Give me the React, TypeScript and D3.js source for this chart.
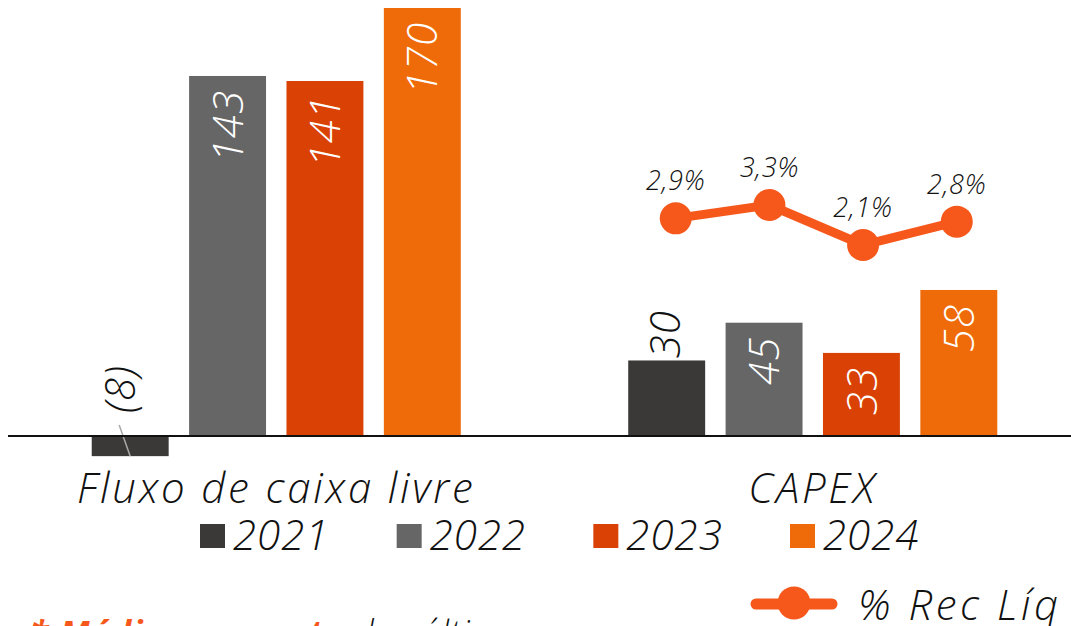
import React from "react";
import * as d3 from "d3";

const categories = ["Fluxo de caixa livre", "CAPEX"];
const years = ["2021", "2022", "2023", "2024"];
const fcfValues = [-8, 143, 141, 170];
const capexValues = [30, 45, 33, 58];
const pctValues = [2.9, 3.3, 2.1, 2.8];
const yearColors = ["#3a3937", "#666666", "#d94105", "#ef6a08"];
const lineColor = "#f6581c";
const lineLegend = "% Rec Líq";
const footOrange = "* Média sem corte";
const footBlack = " dos últimos anos";

const W = 1071;
const H = 626;
const FONT = "'Open Sans', sans-serif";

const fmtVal = (v: number) => (v < 0 ? `(${Math.abs(v)})` : `${v}`);
const fmtPct = (v: number) => d3.format(".1f")(v).replace(".", ",") + "%";

export default function App() {
  const series = [fcfValues, capexValues];
  const x0 = d3.scaleBand().domain(categories).range([8, 1081]).padding(0);
  const x1 = d3
    .scaleBand()
    .domain(years)
    .range([-194.75, 194.75])
    .paddingInner(0.21)
    .paddingOuter(0.105);
  const y = d3.scaleLinear().domain([0, 170]).range([436, 8]);
  const yPct = d3.scaleLinear().domain([0, 3.3]).range([315, 205]);
  const center = (c: string) => (x0(c) as number) + x0.bandwidth() / 2;
  const xPct = d3
    .scalePoint()
    .domain(years)
    .range([center("CAPEX") - 137, center("CAPEX") + 144]);
  const line = d3
    .line<number>()
    .x((_, i) => xPct(years[i]) as number)
    .y((d) => yPct(d));

  const legendX = d3.scalePoint().domain(years).range([200, 790]);

  return (
    <svg
      width={W}
      height={H}
      style={{ position: "absolute", left: 0, top: 0, background: "#fff", overflow: "hidden" }}
      fontFamily={FONT}
      fontStyle="italic"
      fontWeight={360}
    >
      <rect width={W} height={H} fill="#fff" />
      {categories.map((cat, ci) => {
        const cx = center(cat);
        return (
          <g key={cat}>
            {years.map((yr, i) => {
              const v = series[ci][i];
              const bx = cx + (x1(yr) as number);
              const bw = x1.bandwidth();
              const top = y(Math.max(v, 0));
              const bot = y(Math.min(v, 0));
              const mid = bx + bw / 2;
              const inside = v > 32;
              let label;
              if (v < 0) {
                const lx = mid - 10;
                const ly = y(0) - 23;
                label = (
                  <g>
                    <line x1={mid - 11} y1={y(0) - 11} x2={mid} y2={bot} stroke="#a8a8a8" strokeWidth={1.5} />
                    <text
                      transform={`translate(${lx},${ly}) rotate(-90)`}
                      dy="0.36em"
                      fontSize={42}
                      fill="#111"
                      textAnchor="start"
                      letterSpacing={1}
                    >
                      {fmtVal(v)}
                    </text>
                  </g>
                );
              } else if (inside) {
                label = (
                  <text
                    transform={`translate(${mid},${top + 14}) rotate(-90)`}
                    dy="0.36em"
                    fontSize={42}
                    fill="#fff"
                    textAnchor="end"
                    letterSpacing={1}
                  >
                    {fmtVal(v)}
                  </text>
                );
              } else {
                label = (
                  <text
                    transform={`translate(${mid - 2},${top - 2}) rotate(-90)`}
                    dy="0.36em"
                    fontSize={42}
                    fill="#111"
                    textAnchor="start"
                    letterSpacing={1}
                  >
                    {fmtVal(v)}
                  </text>
                );
              }
              return (
                <g key={yr}>
                  <rect x={bx} y={top} width={bw} height={bot - top} fill={yearColors[i]} />
                  {label}
                </g>
              );
            })}
            <text x={cx} y={503} textAnchor="middle" fontSize={42} fill="#111" letterSpacing={2.8}>
              {cat}
            </text>
          </g>
        );
      })}
      <line x1={8} x2={W} y1={y(0)} y2={y(0)} stroke="#111" strokeWidth={2} />

      <path d={line(pctValues) || ""} fill="none" stroke={lineColor} strokeWidth={9} />
      {pctValues.map((v, i) => (
        <g key={i}>
          <circle cx={xPct(years[i])} cy={yPct(v)} r={16} fill={lineColor} />
          <text x={xPct(years[i])} y={yPct(v) - 28} textAnchor="middle" fontSize={27} fill="#111" letterSpacing={0.8}>
            {fmtPct(v)}
          </text>
        </g>
      ))}

      {years.map((yr, i) => {
        const lx = legendX(yr) as number;
        return (
          <g key={yr}>
            <rect x={lx} y={524} width={25} height={24} fill={yearColors[i]} />
            <text x={lx + 33} y={550} fontSize={42} fill="#111" letterSpacing={1}>
              {yr}
            </text>
          </g>
        );
      })}

      <line x1={756} x2={832} y1={604} y2={604} stroke={lineColor} strokeWidth={11} strokeLinecap="round" />
      <circle cx={794} cy={603} r={16.5} fill={lineColor} />
      <text x={858} y={620} fontSize={42} fill="#111" letterSpacing={3.5}>
        {lineLegend}
      </text>

      <text x={30} y={645} fontSize={34} letterSpacing={1.2}>
        <tspan fill={lineColor} fontWeight={700}>
          {footOrange}
        </tspan>
        <tspan fill="#111">{footBlack}</tspan>
      </text>
    </svg>
  );
}
